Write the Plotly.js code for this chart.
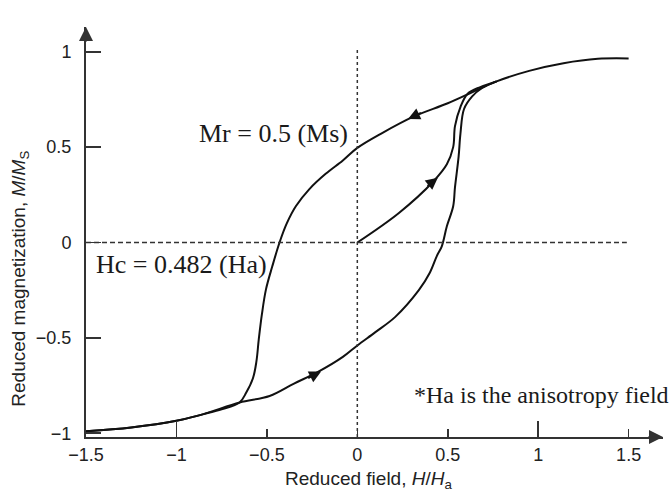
<!DOCTYPE html>
<html>
<head>
<meta charset="utf-8">
<script src="https://cdn.plot.ly/plotly-3.0.1.min.js"></script>
<style>html,body{margin:0;padding:0;background:#fff;}#chart{width:672px;height:495px;}</style>
</head>
<body>
<div id="chart"></div>
<script>
// Descending branch (from +saturation to -saturation)
const descH = [1.5, 1.33, 1.14, 0.95, 0.77, 0.64, 0.50, 0.31, 0.137, 0, -0.08, -0.175, -0.265, -0.34, -0.39, -0.43, -0.47, -0.505, -0.528, -0.545, -0.558, -0.577, -0.614, -0.651, -0.75, -0.85, -1.0, -1.25, -1.5];
const descM = [0.965, 0.963, 0.94, 0.90, 0.845, 0.79, 0.73, 0.66, 0.574, 0.496, 0.43, 0.36, 0.28, 0.19, 0.10, 0.0, -0.125, -0.246, -0.38, -0.51, -0.625, -0.712, -0.787, -0.839, -0.875, -0.90, -0.935, -0.97, -0.99];
// Ascending branch (from -saturation up to the merge point)
const ascH = [-1.5, -1.25, -1.0, -0.85, -0.651, -0.485, -0.35, -0.22, -0.08, 0, 0.10, 0.21, 0.34, 0.40, 0.44, 0.467, 0.495, 0.53, 0.54, 0.56, 0.57, 0.59, 0.635, 0.69, 0.77];
const ascM = [-0.99, -0.97, -0.935, -0.90, -0.839, -0.805, -0.74, -0.68, -0.60, -0.54, -0.47, -0.39, -0.25, -0.16, -0.07, -0.02, 0.085, 0.19, 0.29, 0.45, 0.57, 0.70, 0.766, 0.81, 0.845];
// Initial magnetization curve
const initH = [0, 0.23, 0.42, 0.495, 0.53, 0.54, 0.57, 0.61, 0.68, 0.77];
const initM = [0, 0.155, 0.32, 0.41, 0.50, 0.61, 0.71, 0.78, 0.815, 0.845];
// Direction arrows on curves: tip and tail
const dirTipH = [0.28, 0.445, -0.20];
const dirTipM = [0.648, 0.34, -0.676];
const dirTailH = [0.36, 0.38, -0.28];
const dirTailM = [0.683, 0.29, -0.715];
// Axis ticks
const xTickVals = [-1.5, -1, -0.5, 0, 0.5, 1, 1.5];
const xTickText = ['\u22121.5', '\u22121', '\u22120.5', '0', '0.5', '1', '1.5'];
const xLongTicks = [-1, 1];
const yTickVals = [-1, -0.5, 0, 0.5, 1];
const yTickText = ['\u22121', '\u22120.5', '0', '0.5', '1'];
const xRange = [-1.5, 1.69];
const yRange = [-1.02, 1.13];

const curveLine = {color: '#111', width: 2, shape: 'spline', smoothing: 1};
const traces = [
  {x: descH, y: descM, mode: 'lines', line: curveLine, hoverinfo: 'skip'},
  {x: ascH, y: ascM, mode: 'lines', line: curveLine, hoverinfo: 'skip'},
  {x: initH, y: initM, mode: 'lines', line: curveLine, hoverinfo: 'skip'},
  {x: [0], y: [0], xaxis: 'x2', mode: 'markers', marker: {opacity: 0}, hoverinfo: 'skip'}
];

const serif = {family: 'Liberation Serif, Times New Roman, serif', size: 26, color: '#1a1a1a'};
const serifSmall = {family: 'Liberation Serif, Times New Roman, serif', size: 24, color: '#1a1a1a'};
const sans = {family: 'Liberation Sans, Arial, sans-serif', size: 18, color: '#222'};
const sansTitle = {family: 'Liberation Sans, Arial, sans-serif', size: 19, color: '#222'};
const annotations = [
  {x: -0.885, y: 0.574, xref: 'x', yref: 'y', text: 'Mr = 0.5 (Ms)', showarrow: false, xanchor: 'left', yanchor: 'middle', font: serif},
  {x: -1.455, y: -0.118, xref: 'x', yref: 'y', text: 'Hc = 0.482 (Ha)', showarrow: false, xanchor: 'left', yanchor: 'middle', font: serif},
  {x: 0.3, y: -0.80, xref: 'x', yref: 'y', text: '*Ha is the anisotropy field', showarrow: false, xanchor: 'left', yanchor: 'middle', font: serifSmall},
  {x: 1.405, y: 1.15, xref: 'x', yref: 'y', text: 'Ms', showarrow: false, xanchor: 'center', yanchor: 'middle', font: serif},
  // axis titles
  {x: 0.064, y: -0.105, xref: 'x', yref: 'paper', text: 'Reduced field, <i>H</i>/<i>H</i><sub>a</sub>', showarrow: false, xanchor: 'center', yanchor: 'middle', font: sansTitle},
  {x: -0.1144, y: -0.19, xref: 'paper', yref: 'y', text: 'Reduced magnetization, <i>M</i>/<i>M</i><sub>S</sub>', showarrow: false, textangle: -90, xanchor: 'center', yanchor: 'middle', font: sansTitle},
  // axis arrowheads
  {x: 1, y: 0, xref: 'paper', yref: 'paper', ax: -16, ay: 0, text: '', showarrow: true, arrowhead: 2, arrowsize: 1.4, arrowwidth: 2, arrowcolor: '#333'},
  {x: 0, y: 1, xref: 'paper', yref: 'paper', ax: 0, ay: 16, text: '', showarrow: true, arrowhead: 2, arrowsize: 1.4, arrowwidth: 2, arrowcolor: '#333'}
];
for (let i = 0; i < dirTipH.length; i++) {
  annotations.push({x: dirTipH[i], y: dirTipM[i], ax: dirTailH[i], ay: dirTailM[i], xref: 'x', yref: 'y', axref: 'x', ayref: 'y', text: '', showarrow: true, arrowhead: 2, arrowsize: 1.2, arrowwidth: 2, arrowcolor: '#111'});
}

const shapes = [
  {type: 'line', xref: 'x', yref: 'y', x0: -1.5, x1: 1.49, y0: 0, y1: 0, line: {color: '#333', width: 1.5, dash: '5px,3px'}},
  {type: 'line', xref: 'x', yref: 'y', x0: 0, x1: 0, y0: -1.02, y1: 1.01, line: {color: '#333', width: 1.5, dash: '3px,3px'}}
];

const layout = {
  width: 672, height: 495,
  margin: {l: 86, r: 9, t: 27, b: 58},
  paper_bgcolor: '#fff', plot_bgcolor: '#fff',
  showlegend: false,
  font: sans,
  xaxis: {
    range: xRange, tickvals: xTickVals, ticktext: xTickText,
    ticks: 'inside', ticklen: 8, tickwidth: 1.5, tickcolor: '#333',
    showline: true, linecolor: '#333', linewidth: 2,
    showgrid: false, zeroline: false, tickfont: sans
  },
  xaxis2: {
    range: xRange, overlaying: 'x', anchor: 'y', side: 'bottom',
    tickvals: xLongTicks, ticks: 'inside', ticklen: 16, tickwidth: 1.5, tickcolor: '#333',
    showticklabels: false, showline: false, showgrid: false, zeroline: false
  },
  yaxis: {
    range: yRange, tickvals: yTickVals, ticktext: yTickText,
    ticks: 'inside', ticklen: 15, tickwidth: 1.5, tickcolor: '#333',
    showline: true, linecolor: '#333', linewidth: 2, ticklabelstandoff: 9,
    showgrid: false, zeroline: false, tickfont: sans
  },
  annotations: annotations,
  shapes: shapes
};
Plotly.newPlot('chart', traces, layout, {displayModeBar: false, staticPlot: true});
</script>
</body>
</html>
